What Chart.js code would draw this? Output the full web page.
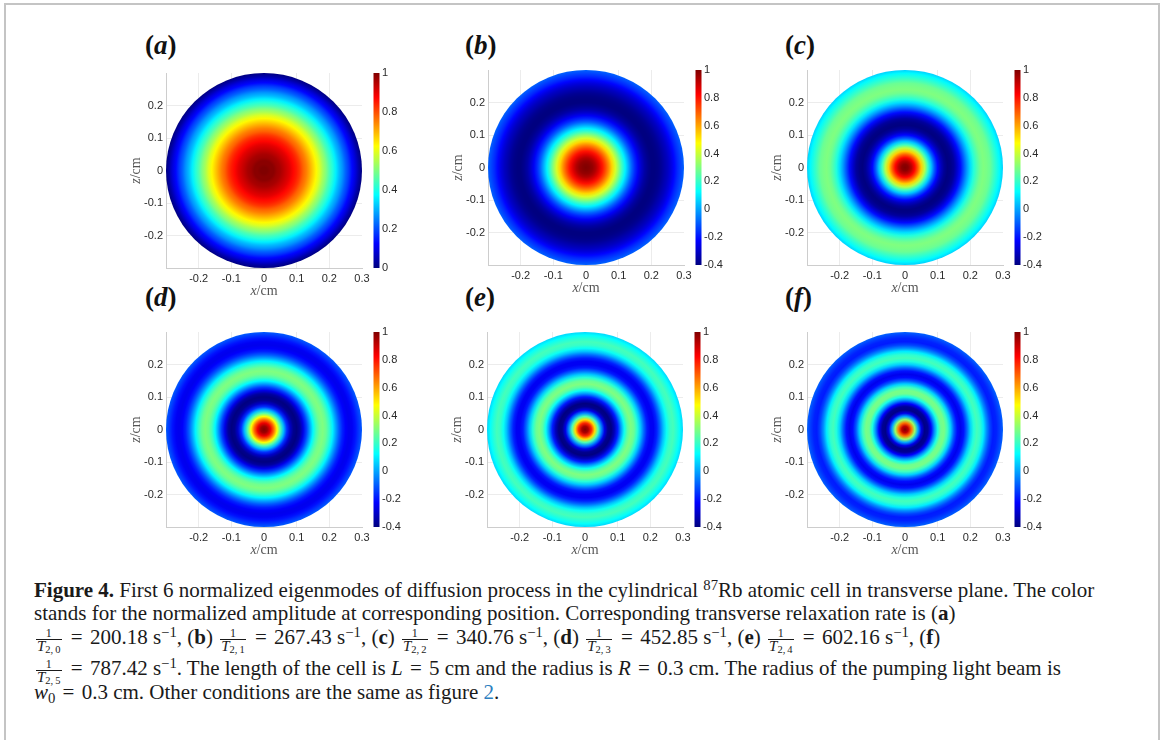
<!DOCTYPE html>
<html>
<head>
<meta charset="utf-8">
<script src="https://cdn.jsdelivr.net/npm/chart.js@4.4.1/dist/chart.umd.min.js"></script>
<style>
    html, body { margin: 0; padding: 0; background: #fff; }
    body { width: 1165px; height: 740px; position: relative; overflow: hidden; }
    #frame { position: absolute; left: 4px; top: 3px; width: 1152px; height: 800px; border: 2px solid #c4c4c4; box-sizing: content-box; }
    canvas { position: absolute; }
    .plabel { position: absolute; font-family: 'Liberation Serif', serif; font-weight: bold; font-size: 27px; line-height: 30px; color: #111; }
    #caption { position: absolute; left: 34px; top: 0; font-family: 'Liberation Serif', serif; color: #1a1a1a; }
    .line { position: absolute; left: 0; white-space: nowrap; line-height: 23px; }
    .eq { padding: 0 2px; }
    .frac { display: inline-block; vertical-align: middle; text-align: center; font-size: 15px; line-height: 12px; margin: 0 2px; }
    .frac .num { display: block; font-size: 12px; border-bottom: 1px solid #1a1a1a; padding: 0 1px; }
    .frac .den { display: block; padding: 0 1px; }
    .frac sub { font-size: 10.5px; top: 0.2em; }
    sup, sub { font-size: 0.7em; line-height: 0; vertical-align: 0; position: relative; }
    sup { top: -0.5em; }
    sub { top: 0.3em; }
</style>
</head>
<body>
<div id="frame"></div>

<div class="plabel" style="left:145px; top:30px;">(<i>a</i>)</div>
<div class="plabel" style="left:465px; top:30px;">(<i>b</i>)</div>
<div class="plabel" style="left:785px; top:30px;">(<i>c</i>)</div>
<div class="plabel" style="left:145px; top:282px;">(<i>d</i>)</div>
<div class="plabel" style="left:465px; top:282px;">(<i>e</i>)</div>
<div class="plabel" style="left:785px; top:282px;">(<i>f</i>)</div>

<canvas id="ca" width="316" height="262" style="left:106px; top:46px;"></canvas>
<canvas id="cb" width="316" height="262" style="left:428px; top:43px;"></canvas>
<canvas id="cc" width="316" height="262" style="left:747px; top:43px;"></canvas>
<canvas id="cd" width="316" height="262" style="left:106px; top:305px;"></canvas>
<canvas id="ce" width="316" height="262" style="left:427px; top:305px;"></canvas>
<canvas id="cf" width="316" height="262" style="left:747px; top:305px;"></canvas>

<div id="caption">
    <div class="line" id="l1" style="top:579px;"><b>Figure 4.</b> First 6 normalized eigenmodes of diffusion process in the cylindrical <sup>87</sup>Rb atomic cell in transverse plane. The color</div>
    <div class="line" id="l2" style="top:602px;">stands for the normalized amplitude at corresponding position. Corresponding transverse relaxation rate is (<b>a</b>)</div>
    <div class="line" id="l3" style="top:626px;"><span class="frac"><span class="num">1</span><span class="den"><i>T</i><sub>2,&thinsp;0</sub></span></span> <span class="eq">=</span> 200.18 s<sup>−1</sup>, (<b>b</b>) <span class="frac"><span class="num">1</span><span class="den"><i>T</i><sub>2,&thinsp;1</sub></span></span> <span class="eq">=</span> 267.43 s<sup>−1</sup>, (<b>c</b>) <span class="frac"><span class="num">1</span><span class="den"><i>T</i><sub>2,&thinsp;2</sub></span></span> <span class="eq">=</span> 340.76 s<sup>−1</sup>, (<b>d</b>) <span class="frac"><span class="num">1</span><span class="den"><i>T</i><sub>2,&thinsp;3</sub></span></span> <span class="eq">=</span> 452.85 s<sup>−1</sup>, (<b>e</b>) <span class="frac"><span class="num">1</span><span class="den"><i>T</i><sub>2,&thinsp;4</sub></span></span> <span class="eq">=</span> 602.16 s<sup>−1</sup>, (<b>f</b>)</div>
    <div class="line" id="l4" style="top:657px;"><span class="frac"><span class="num">1</span><span class="den"><i>T</i><sub>2,&thinsp;5</sub></span></span> <span class="eq">=</span> 787.42 s<sup>−1</sup>. The length of the cell is <i>L</i> <span class="eq">=</span> 5 cm and the radius is <i>R</i> <span class="eq">=</span> 0.3 cm. The radius of the pumping light beam is</div>
    <div class="line" id="l5" style="top:681px;"><i>w</i><sub>0</sub> <span class="eq">=</span> 0.3 cm. Other conditions are the same as figure <span style="color:#2d7fc0">2</span>.</div>
</div>

<script>
// radius samples (cm) and normalized amplitude of each eigenmode
const radii = [0, 0.01, 0.02, 0.03, 0.04, 0.05, 0.06, 0.07, 0.08, 0.09, 0.10,
    0.11, 0.12, 0.13, 0.14, 0.15, 0.16, 0.17, 0.18, 0.19, 0.20,
    0.21, 0.22, 0.23, 0.24, 0.25, 0.26, 0.27, 0.28, 0.29, 0.30];

const modeA = [1.00, 1.00, 0.99, 0.99, 0.97, 0.96, 0.94, 0.92, 0.90, 0.87, 0.85,
    0.82, 0.78, 0.75, 0.71, 0.67, 0.63, 0.59, 0.54, 0.50, 0.45,
    0.41, 0.36, 0.31, 0.27, 0.22, 0.18, 0.13, 0.09, 0.04, 0.00];
const modeB = [1.00, 0.99, 0.97, 0.93, 0.87, 0.80, 0.72, 0.63, 0.53, 0.42, 0.32,
    0.21, 0.11, 0.01, -0.09, -0.17, -0.24, -0.30, -0.35, -0.38, -0.40,
    -0.40, -0.39, -0.37, -0.34, -0.31, -0.27, -0.22, -0.17, -0.13, -0.09];
const modeC = [1.00, 0.98, 0.92, 0.82, 0.69, 0.54, 0.38, 0.21, 0.05, -0.10, -0.22,
    -0.31, -0.37, -0.40, -0.39, -0.36, -0.29, -0.21, -0.11, -0.01, 0.08,
    0.17, 0.23, 0.28, 0.30, 0.29, 0.27, 0.22, 0.17, 0.12, 0.06];
const modeD = [1.00, 0.96, 0.85, 0.68, 0.47, 0.24, 0.03, -0.16, -0.30, -0.38, -0.40,
    -0.36, -0.26, -0.14, -0.01, 0.12, 0.22, 0.28, 0.30, 0.27, 0.20,
    0.11, 0.00, -0.10, -0.18, -0.23, -0.25, -0.24, -0.20, -0.15, -0.10];
const modeE = [1.00, 0.94, 0.77, 0.52, 0.23, -0.04, -0.26, -0.38, -0.40, -0.32, -0.19,
    -0.02, 0.14, 0.25, 0.30, 0.27, 0.18, 0.05, -0.08, -0.19, -0.24,
    -0.24, -0.18, -0.08, 0.04, 0.14, 0.20, 0.22, 0.18, 0.13, 0.07];
const modeF = [1.00, 0.91, 0.67, 0.34, 0.00, -0.26, -0.39, -0.37, -0.23, -0.03, 0.16,
    0.28, 0.29, 0.21, 0.06, -0.10, -0.21, -0.25, -0.20, -0.08, 0.06,
    0.17, 0.22, 0.19, 0.10, -0.03, -0.13, -0.19, -0.18, -0.14, -0.09];

// colour bar limits
const cbMinA = 0;
const cbMinOthers = -0.4;
const cbMax = 1;

const panels = [
    { canvas: 'ca', values: modeA, cmin: cbMinA },
    { canvas: 'cb', values: modeB, cmin: cbMinOthers },
    { canvas: 'cc', values: modeC, cmin: cbMinOthers },
    { canvas: 'cd', values: modeD, cmin: cbMinOthers },
    { canvas: 'ce', values: modeE, cmin: cbMinOthers },
    { canvas: 'cf', values: modeF, cmin: cbMinOthers },
];

// matlab jet colormap
function jet(f) {
    f = Math.min(1, Math.max(0, f));
    const c = (t) => Math.round(255 * Math.min(1, Math.max(0, 1.5 - Math.abs(4 * f - t))));
    return `rgb(${c(3)},${c(2)},${c(1)})`;
}

const tickFont = { family: '"Liberation Sans", Arial, sans-serif', size: 11 };
const tickColor = '#2a2a2a';
const fmt = (v) => {
    const k = Math.round(v * 10);
    return k === 0 ? '0' : String(k / 10);
};

const diskPlugin = {
    id: 'disk',
    beforeDatasetsDraw(chart) {
        const { ctx, scales: { x, y, cb } } = chart;
        const pts = chart.data.datasets[0].data;
        const outer = pts[pts.length - 1].x;
        const cx = x.getPixelForValue(0);
        const cy = y.getPixelForValue(0);
        const rx = x.getPixelForValue(outer) - cx;
        const ry = cy - y.getPixelForValue(outer);
        const span = cb.max - cb.min;
        ctx.save();
        ctx.translate(cx, cy);
        ctx.scale(1, ry / rx);
        const g = ctx.createRadialGradient(0, 0, 0, 0, 0, rx);
        pts.forEach((p) => g.addColorStop(p.x / outer, jet((p.v - cb.min) / span)));
        ctx.fillStyle = g;
        ctx.beginPath();
        ctx.arc(0, 0, rx, 0, Math.PI * 2);
        ctx.fill();
        ctx.restore();
    },
    afterDraw(chart) {
        const { ctx, scales: { cb } } = chart;
        const top = cb.getPixelForValue(cb.max);
        const bottom = cb.getPixelForValue(cb.min);
        const g = ctx.createLinearGradient(0, bottom, 0, top);
        [0, 1 / 8, 3 / 8, 5 / 8, 7 / 8, 1].forEach((f) => g.addColorStop(f, jet(f)));
        ctx.fillStyle = g;
        ctx.fillRect(cb.left + 11.5, top, 6, bottom - top);
    },
};

function drawAxisTitle(ctx, v, x, y) {
    const it = 'italic 14px "Liberation Serif"';
    const up = '14px "Liberation Serif"';
    ctx.font = it;
    const w1 = ctx.measureText(v).width;
    ctx.font = up;
    const w2 = ctx.measureText('/cm').width;
    const left = x - (w1 + w2) / 2;
    ctx.textAlign = 'left';
    ctx.font = it;
    ctx.fillText(v, left, y);
    ctx.font = up;
    ctx.fillText('/cm', left + w1, y);
}

const titlePlugin = {
    id: 'axisTitles',
    afterDraw(chart) {
        const { ctx, chartArea: a } = chart;
        ctx.save();
        ctx.fillStyle = '#555';
        ctx.textBaseline = 'middle';
        drawAxisTitle(ctx, 'x', (a.left + a.right) / 2, a.bottom + 23);
        ctx.translate(a.left - 30, (a.top + a.bottom) / 2);
        ctx.rotate(-Math.PI / 2);
        drawAxisTitle(ctx, 'z', 0, 0);
        ctx.restore();
    },
};

const gridColor = (c) => (Math.abs(Math.round(c.tick.value * 10)) === 3 ? 'rgba(0,0,0,0)' : '#ececec');

panels.forEach((p) => {
    const ctx = document.getElementById(p.canvas).getContext('2d');
    new Chart(ctx, {
        type: 'scatter',
        data: {
            datasets: [{
                data: radii.map((r, i) => ({ x: r, y: 0, v: p.values[i] })),
                pointRadius: 0,
                showLine: false,
            }],
        },
        options: {
            responsive: false,
            animation: false,
            events: [],
            layout: { padding: { top: 27, left: 0, right: 0, bottom: 0 } },
            plugins: { legend: { display: false }, tooltip: { enabled: false } },
            scales: {
                x: {
                    type: 'linear', min: -0.3, max: 0.3,
                    grid: { color: gridColor, drawTicks: false },
                    border: { color: '#cdcdcd' },
                    ticks: {
                        stepSize: 0.1, padding: 4, autoSkip: false, maxRotation: 0,
                        font: tickFont, color: tickColor,
                        callback: (v) => (Math.round(v * 10) === -3 ? '' : fmt(v)),
                    },
                    afterFit: (s) => { s.height = 40; },
                },
                y: {
                    type: 'linear', min: -0.3, max: 0.3,
                    grid: { color: gridColor, drawTicks: false },
                    border: { color: '#cdcdcd' },
                    ticks: {
                        stepSize: 0.1, padding: 3, autoSkip: false,
                        font: tickFont, color: tickColor,
                        callback: (v) => (Math.abs(Math.round(v * 10)) === 3 ? '' : fmt(v)),
                    },
                    afterFit: (s) => { s.width = 60; },
                },
                cb: {
                    type: 'linear', position: 'right', min: p.cmin, max: cbMax,
                    grid: { display: false, drawTicks: false },
                    border: { display: false },
                    ticks: { stepSize: 0.2, padding: 20, font: tickFont, color: tickColor, callback: fmt },
                    afterFit: (s) => { s.width = 60; },
                },
            },
        },
        plugins: [diskPlugin, titlePlugin],
    });
});

// caption: size the serif so that the first line fills the column
(function fitCaption() {
    const cap = document.getElementById('caption');
    cap.style.fontSize = '18px';
    const w1 = document.getElementById('l1').getBoundingClientRect().width;
    cap.style.fontSize = (18 * 1061 / w1).toFixed(2) + 'px';
})();
</script>
</body>
</html>
